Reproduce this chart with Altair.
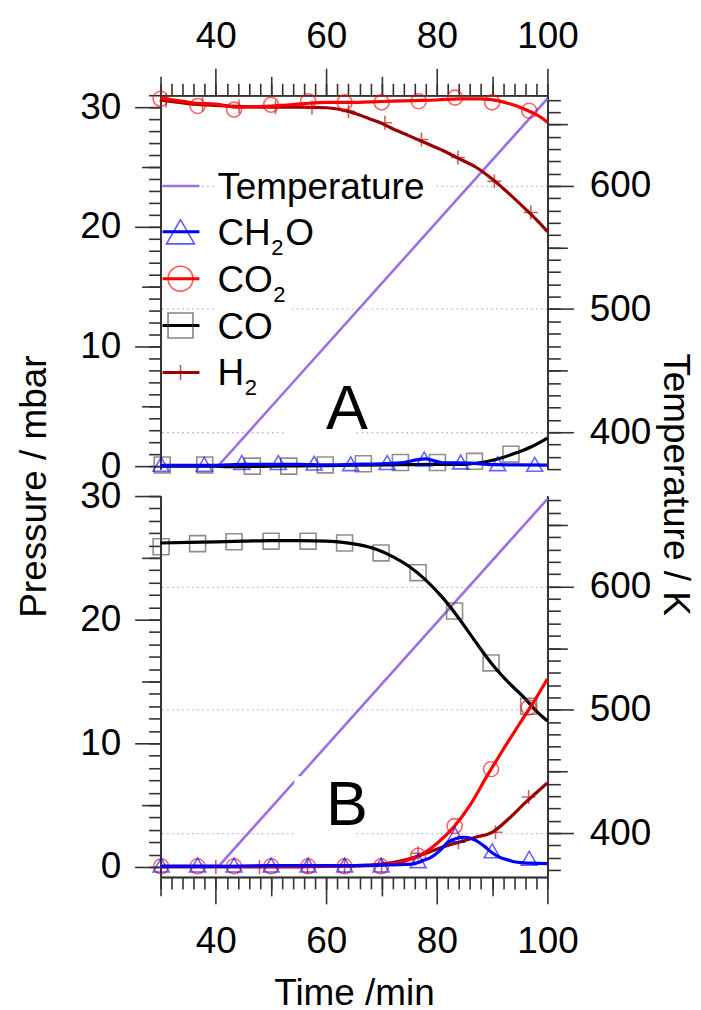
import altair as alt
import pandas as pd

# ---------------- data ----------------
# Panel A
A_CO2_t = [30, 33, 36, 40, 44, 48, 52, 56, 60, 64, 68, 72, 76, 80, 84, 88, 91, 93, 95, 97, 99, 100]
A_CO2_v = [30.75, 30.55, 30.35, 30.25, 30.0, 30.05, 30.15, 30.3, 30.4, 30.4, 30.45, 30.5, 30.55, 30.6, 30.7, 30.7, 30.55, 30.3, 30.0, 29.6, 29.1, 28.75]
A_CO2_mt = [30, 36.7, 43.3, 50, 56.7, 63.3, 70, 76.7, 83.3, 90, 96.7]
A_CO2_mv = [30.7, 30.1, 29.8, 30.2, 30.5, 30.4, 30.4, 30.5, 30.8, 30.4, 29.7]

A_H2_t = [30, 35, 40, 45, 50, 55, 60, 62, 64, 66, 68, 70, 72, 75, 78, 81, 84, 87, 90, 93, 96, 98, 100]
A_H2_v = [30.6, 30.3, 30.15, 30.05, 30.0, 30.0, 29.95, 29.85, 29.65, 29.35, 29.0, 28.65, 28.2, 27.6, 27.0, 26.4, 25.7, 25.0, 24.0, 22.8, 21.5, 20.6, 19.6]
A_H2_mt = [31, 37.6, 44.2, 50.8, 57.4, 64, 70.6, 77.2, 83.8, 90.4, 97]
A_H2_mv = [30.55, 30.25, 30.05, 30.0, 29.97, 29.65, 28.7, 27.3, 25.8, 23.8, 21.2]

A_CH2O_t = [30, 35, 40, 42, 45, 50, 55, 60, 65, 70, 74, 76, 78, 81, 86, 90, 95, 100]
A_CH2O_v = [0.05, 0.05, 0.05, 0.1, 0.15, 0.15, 0.15, 0.1, 0.15, 0.2, 0.3, 0.5, 0.6, 0.28, 0.25, 0.12, 0.1, 0.08]
A_CH2O_mt = [30.1, 37.9, 44.7, 51.3, 57.8, 64.4, 71, 77.7, 84.3, 91, 97.7]
A_CH2O_mv = [0.15, 0.15, 0.3, 0.3, 0.25, 0.2, 0.3, 0.6, 0.35, 0.2, 0.15]

A_CO_t = [30, 40, 42, 50, 60, 70, 80, 85, 88, 91, 94, 97, 100]
A_CO_v = [0.0, 0.0, -0.05, 0.0, 0.05, 0.1, 0.15, 0.15, 0.3, 0.6, 1.05, 1.6, 2.35]
A_CO_mt = [30.3, 38, 46.6, 53.2, 59.8, 66.7, 73.4, 80.1, 86.8, 93.4]
A_CO_mv = [0.1, 0.1, 0.0, 0.0, 0.1, 0.2, 0.3, 0.3, 0.4, 1.0]

# Panel B
B_CO_t = [30, 35, 40, 45, 50, 55, 60, 63, 66, 69, 72, 75, 78, 81, 84, 87, 90, 93, 96, 98, 100]
B_CO_v = [26.2, 26.25, 26.3, 26.35, 26.4, 26.4, 26.35, 26.25, 26.05, 25.7, 25.1, 24.3, 23.2, 21.8, 20.1, 18.2, 16.4, 14.9, 13.6, 12.6, 11.8]
B_CO_mt = [30.1, 36.7, 43.3, 50, 56.7, 63.3, 69.9, 76.6, 83.2, 89.8, 96.6]
B_CO_mv = [25.9, 26.15, 26.3, 26.35, 26.35, 26.2, 25.4, 23.8, 20.7, 16.5, 13.0]

B_CO2_t = [30, 40, 50, 60, 68, 71, 74, 77, 80, 83, 86, 89, 92, 95, 98, 100]
B_CO2_v = [0.05, 0.05, 0.05, 0.05, 0.1, 0.2, 0.45, 0.95, 1.9, 3.2, 5.0, 7.3, 9.5, 11.6, 13.7, 15.2]
B_CO2_mt = [30.1, 36.7, 43.3, 50, 56.7, 63.3, 69.9, 76.6, 83.2, 89.8, 96.6]
B_CO2_mv = [0.05, 0.05, 0.05, 0.05, 0.05, 0.05, 0.05, 0.9, 3.3, 7.9, 12.9]

B_H2_t = [30, 40, 50, 60, 68, 72, 75, 78, 81, 84, 87, 90, 93, 96, 98, 100]
B_H2_v = [0.0, 0.0, 0.0, 0.05, 0.15, 0.35, 0.65, 1.1, 1.6, 2.0, 2.4, 2.8, 3.9, 5.2, 6.0, 6.8]
B_H2_mt = [40, 47.9, 56.6, 63.3, 70, 76.6, 83.9, 90.6, 96.6]
B_H2_mv = [0.0, 0.0, 0.0, 0.05, 0.1, 1.1, 2.0, 2.8, 5.65]

B_CH2O_t = [30, 40, 50, 60, 70, 74, 76, 77.3, 79, 80.5, 82, 83.5, 85, 87, 88.5, 90, 91.5, 93, 94, 97, 100]
B_CH2O_v = [0.05, 0.05, 0.1, 0.1, 0.15, 0.2, 0.27, 0.48, 0.8, 1.3, 2.0, 2.3, 2.4, 2.15, 1.7, 1.15, 0.75, 0.55, 0.42, 0.3, 0.27]
B_CH2O_mt = [30.1, 36.7, 43.3, 50, 56.7, 63.3, 69.9, 76.6, 83.3, 90, 96.7]
B_CH2O_mv = [0.15, 0.15, 0.15, 0.15, 0.15, 0.15, 0.15, 0.5, 2.6, 1.3, 0.7]

# Temperature ramp (both panels)
TEMP_t = [30, 40.6, 100]
TEMP_v = [373.5, 373.5, 671]

# axis tick values
TIME_MAJOR = [40, 60, 80, 100]
TIME_MED = [30, 50, 70, 90]
TIME_MINOR = list(range(30, 101, 2))
P_MAJOR = [0, 10, 20, 30]
P_MED = [5, 15, 25]
P_MINOR_A = list(range(0, 32))
P_MINOR_B = list(range(0, 31))
K_MAJOR = [400, 500, 600]
K_MED = [450, 550, 650]
K_MINOR = list(range(370, 671, 10))

# ---------------- styling ----------------
FONT = "Liberation Sans"
FS = 37
AX = "#333333"
W = 388
H = 784            # both panels together
RA = [375, 0]      # pixel range of panel A
RB = [784, 402]    # pixel range of panel B
T_DOM = [30, 100]
PA_DOM = [-0.25, 31.0]
PB_DOM = [-0.81, 30.0]
KA_DOM = [370.0, 673.7]
KB_DOM = [364.4, 673.4]

C_T = "#9D6FE3"
C_CH2O = "#0000FF"
C_CO2 = "#FF0000"
C_CO = "#000000"
C_H2 = "#9B0000"
PLUS = "M-1,0L1,0M0,-1L0,1"


def sc(dom, rng=None):
    if rng is None:
        return alt.Scale(domain=dom, nice=False, zero=False)
    return alt.Scale(domain=dom, range=rng, nice=False, zero=False)


def axis_layer(ch, dom, rng, orient, vals, tsize, labels=False, pad=0, grid=False, **kw):
    vals = [v for v in vals if dom[0] <= v <= dom[1]]
    ax = dict(orient=orient, values=vals, tickSize=tsize, tickWidth=1.6, tickColor=AX,
              domainColor=AX, domainWidth=1.6, labels=labels, labelFont=FONT,
              labelFontSize=FS, labelColor="black", labelPadding=pad, labelFlush=False,
              labelOverlap=False, format="d", grid=grid)
    if grid:
        ax.update(gridColor="#C6C0F2", gridDash=[2, 3], gridWidth=1.3)
    if "title" in kw:
        ax.update(titleFont=FONT, titleFontSize=FS, titleFontWeight="normal", titleColor="black")
        ax.update(kw)
    else:
        ax["title"] = None
    df = pd.DataFrame({"v": [dom[0]]})
    if ch == "x":
        enc = {"x": alt.X("v:Q", scale=sc(dom), axis=alt.Axis(**ax)), "y": alt.value(0)}
    else:
        enc = {"y": alt.Y("v:Q", scale=sc(dom, rng), axis=alt.Axis(**ax)), "x": alt.value(0)}
    return alt.Chart(df).mark_point(opacity=0).encode(**enc)


def line(t, v, ydom, rng, color, width=3.2, interp="monotone"):
    df = pd.DataFrame({"t": t, "v": v})
    return alt.Chart(df).mark_line(color=color, strokeWidth=width, interpolate=interp).encode(
        x=alt.X("t:Q", scale=sc(T_DOM), axis=None),
        y=alt.Y("v:Q", scale=sc(ydom, rng), axis=None))


def markers(t, v, ydom, rng, color, shape, size, opacity=0.6):
    df = pd.DataFrame({"t": t, "v": v})
    return alt.Chart(df).mark_point(shape=shape, filled=False, size=size, strokeWidth=1.6,
                                    color=color, opacity=opacity).encode(
        x=alt.X("t:Q", scale=sc(T_DOM), axis=None),
        y=alt.Y("v:Q", scale=sc(ydom, rng), axis=None))


ONE = pd.DataFrame({"a": [0]})


def rect(x1, x2, y1, y2):
    return alt.Chart(ONE).mark_rect(color="white").encode(
        x=alt.value(x1), x2=alt.value(x2), y=alt.value(y1), y2=alt.value(y2))


def text(s, x, y, size=FS, align="left", baseline="alphabetic"):
    return alt.Chart(ONE).mark_text(text=s, font=FONT, fontSize=size, align=align,
                                    baseline=baseline, color="black").encode(
        x=alt.value(x), y=alt.value(y))


def seg(x1, x2, y, color, width=3):
    return alt.Chart(ONE).mark_rule(color=color, strokeWidth=width).encode(
        x=alt.value(x1), x2=alt.value(x2), y=alt.value(y))


def sym(x, y, color, shape, size):
    return alt.Chart(ONE).mark_point(shape=shape, filled=False, size=size, strokeWidth=1.6,
                                     color=color, opacity=0.65).encode(
        x=alt.value(x), y=alt.value(y))


def left_axes(pdom, rng, minor, title_kw):
    return [
        axis_layer("y", pdom, rng, "left", minor, 12),
        axis_layer("y", pdom, rng, "left", P_MED, 19),
        axis_layer("y", pdom, rng, "left", P_MAJOR, 26, labels=True, pad=14, **title_kw),
    ]


def right_axes(kdom, rng, title_kw):
    return [
        axis_layer("y", kdom, rng, "right", K_MINOR, 13),
        axis_layer("y", kdom, rng, "right", K_MED, 20),
        axis_layer("y", kdom, rng, "right", K_MAJOR, 26, labels=True, pad=16, grid=True, **title_kw),
    ]


def time_axes(orient, pad, title_kw):
    return [
        axis_layer("x", T_DOM, None, orient, TIME_MINOR, 12),
        axis_layer("x", T_DOM, None, orient, TIME_MED, 19),
        axis_layer("x", T_DOM, None, orient, TIME_MAJOR, 27, labels=True, pad=pad, **title_kw),
    ]


OB = 402  # pixel offset of panel B top
LX = 57   # legend text start
BL = 13   # baseline offset of legend text from row centre

layers = (
    left_axes(PA_DOM, RA, P_MINOR_A, dict(title="Pressure / mbar", titleAngle=270, titleAlign="center",
                                          titleBaseline="alphabetic", titleX=-115, titleY=392))
    + right_axes(KA_DOM, RA, dict(title="Temperature / K", titleAngle=90, titleAlign="center",
                                  titleBaseline="alphabetic", titleX=116, titleY=390))
    + time_axes("top", 13, {})
    + left_axes(PB_DOM, RB, P_MINOR_B, {})
    + right_axes(KB_DOM, RB, {})
    + time_axes("bottom", 20, dict(title="Time /min", titleBaseline="alphabetic", titleY=128,
                                   titleX=194, titleAlign="center"))
    # ---- panel A ----
    + [
        line(TEMP_t, TEMP_v, KA_DOM, RA, C_T, 2.6, "linear"),
        rect(124, 196, 310, 350),
        text("A", 187, 335, size=63, align="center"),
        markers(A_H2_mt, A_H2_mv, PA_DOM, RA, C_H2, PLUS, 196),
        line(A_H2_t, A_H2_v, PA_DOM, RA, C_H2),
        markers(A_CO_mt, A_CO_mv, PA_DOM, RA, "#444444", "square", 256),
        line(A_CO_t, A_CO_v, PA_DOM, RA, C_CO),
        markers(A_CO2_mt, A_CO2_mv, PA_DOM, RA, C_CO2, "circle", 225),
        line(A_CO2_t, A_CO2_v, PA_DOM, RA, C_CO2),
        markers(A_CH2O_mt, A_CH2O_mv, PA_DOM, RA, C_CH2O, "triangle-up", 256),
        line(A_CH2O_t, A_CH2O_v, PA_DOM, RA, C_CH2O),
        # legend
        rect(55, 274, 76, 106),
        rect(55, 131, 200, 226),
        seg(2, 39, 91, C_T, 2.6),
        text("Temperature", LX, 91 + BL),
        seg(2, 39, 137, C_CH2O),
        sym(20, 137, C_CH2O, "triangle-up", 784),
        text("CH", LX, 137 + BL),
        text("2", 111, 147 + BL, size=22),
        text("O", 125, 137 + BL),
        seg(2, 39, 184, C_CO2),
        sym(20, 184, C_CO2, "circle", 625),
        text("CO", LX, 184 + BL),
        text("2", 113, 194 + BL, size=22),
        seg(2, 39, 231, C_CO),
        sym(20, 231, "#444444", "square", 625),
        text("CO", LX, 231 + BL),
        seg(2, 39, 278, C_H2),
        sym(20, 278, C_H2, PLUS, 225),
        text("H", LX, 278 + BL),
        text("2", 84.5, 288 + BL, size=22),
    ]
    # ---- panel B ----
    + [
        line(TEMP_t, TEMP_v, KB_DOM, RB, C_T, 2.6, "linear"),
        rect(134, 196, OB + 281, OB + 345),
        text("B", 187, OB + 330, size=63, align="center"),
        markers(B_H2_mt, B_H2_mv, PB_DOM, RB, C_H2, PLUS, 196),
        line(B_H2_t, B_H2_v, PB_DOM, RB, C_H2),
        markers(B_CO_mt, B_CO_mv, PB_DOM, RB, "#444444", "square", 256),
        line(B_CO_t, B_CO_v, PB_DOM, RB, C_CO),
        markers(B_CO2_mt, B_CO2_mv, PB_DOM, RB, C_CO2, "circle", 225),
        line(B_CO2_t, B_CO2_v, PB_DOM, RB, C_CO2),
        markers(B_CH2O_mt, B_CH2O_mv, PB_DOM, RB, C_CH2O, "triangle-up", 256),
        line(B_CH2O_t, B_CH2O_v, PB_DOM, RB, C_CH2O),
    ]
)

chart = alt.layer(*layers).resolve_scale(x="independent", y="independent").resolve_axis(
    x="independent", y="independent").properties(
    width=W, height=H, padding={"left": 8, "top": 8, "right": 0, "bottom": 0}
).configure_view(strokeWidth=0)

chart.save("out.html", embed_options={"renderer": "svg", "actions": False})
